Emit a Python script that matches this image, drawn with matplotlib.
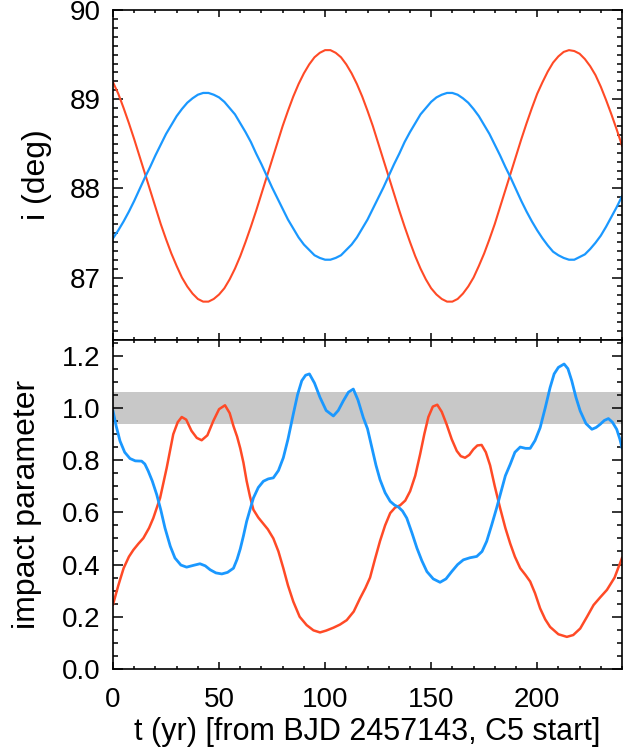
import numpy as np
import matplotlib
matplotlib.use("Agg")
from matplotlib import pyplot as plt
from matplotlib.ticker import MultipleLocator, FormatStrFormatter

##### Data
# top panel: inclination (deg), sampled every 2.5 yr
t_inc = [i * 2.5 for i in range(97)]
inc_red = [89.19, 89.06, 88.90, 88.73, 88.55, 88.36, 88.17, 87.98, 87.79, 87.60,
           87.43, 87.27, 87.13, 87.00, 86.90, 86.82, 86.76, 86.73, 86.73, 86.76,
           86.81, 86.88, 86.98, 87.10, 87.24, 87.40, 87.57, 87.75, 87.94, 88.13,
           88.32, 88.51, 88.70, 88.87, 89.03, 89.17, 89.29, 89.39, 89.47, 89.52,
           89.55, 89.55, 89.52, 89.47, 89.39, 89.29, 89.17, 89.03, 88.87, 88.70,
           88.51, 88.32, 88.13, 87.94, 87.75, 87.57, 87.40, 87.24, 87.10, 86.98,
           86.88, 86.81, 86.76, 86.73, 86.73, 86.76, 86.82, 86.90, 87.00, 87.13,
           87.27, 87.43, 87.60, 87.79, 87.98, 88.17, 88.36, 88.55, 88.73, 88.90,
           89.06, 89.19, 89.31, 89.41, 89.48, 89.53, 89.55, 89.54, 89.51, 89.45,
           89.37, 89.27, 89.14, 88.99, 88.83, 88.66, 88.48]
inc_blue = [87.44, 87.53, 87.63, 87.74, 87.86, 87.99, 88.12, 88.24, 88.37, 88.49,
            88.61, 88.71, 88.81, 88.89, 88.96, 89.01, 89.05, 89.07, 89.07, 89.05,
            89.02, 88.97, 88.90, 88.83, 88.73, 88.63, 88.52, 88.39, 88.27, 88.14,
            88.01, 87.89, 87.77, 87.65, 87.55, 87.45, 87.37, 87.31, 87.25, 87.22,
            87.20, 87.20, 87.22, 87.25, 87.31, 87.37, 87.45, 87.55, 87.65, 87.77,
            87.89, 88.01, 88.14, 88.27, 88.39, 88.52, 88.63, 88.73, 88.83, 88.90,
            88.97, 89.02, 89.05, 89.07, 89.07, 89.05, 89.01, 88.96, 88.89, 88.81,
            88.71, 88.61, 88.49, 88.37, 88.24, 88.12, 87.99, 87.86, 87.74, 87.63,
            87.53, 87.44, 87.36, 87.29, 87.25, 87.22, 87.20, 87.20, 87.23, 87.26,
            87.32, 87.39, 87.47, 87.57, 87.68, 87.79, 87.91]

# bottom panel: impact parameter
t_b_red = [0, 2.5, 5, 7.5, 9.6, 12, 14.3, 17, 19, 22.2, 25.3, 28.4, 30.5, 32.4, 34.5,
           37, 39.5, 41.8, 44.5, 47.3, 50, 52.8, 55, 56.8, 58.5, 60, 61.5, 63, 64.6,
           66.2, 68.5, 70.9, 73, 75.6, 78, 80.3, 82.5, 85, 88, 91.3, 94.5, 97.6, 100.5,
           103.9, 107, 110.2, 113.5, 116.5, 119, 121.2, 123.5, 125.9, 128.3, 130.7, 133,
           135.4, 137.8, 140.1, 142.5, 144.8, 146.8, 148.7, 150.8, 152.9, 155, 157.3,
           159.7, 162.1, 164, 166, 168, 169.9, 171.8, 173.8, 175.8, 177.8, 180, 182.5,
           185, 187.3, 189.5, 192, 194.5, 196.7, 199, 201.4, 203.8, 206.1, 210, 214,
           217, 220.3, 223.5, 226.6, 229.8, 232.9, 236.5, 240]
b_red = [0.247, 0.32, 0.386, 0.43, 0.456, 0.48, 0.501, 0.54, 0.578, 0.655, 0.770, 0.899,
         0.945, 0.965, 0.955, 0.912, 0.885, 0.876, 0.895, 0.950, 0.995, 1.010, 0.98,
         0.93, 0.89, 0.845, 0.79, 0.72, 0.66, 0.61, 0.58, 0.556, 0.535, 0.50, 0.45,
         0.386, 0.32, 0.258, 0.20, 0.168, 0.148, 0.140, 0.147, 0.158, 0.17, 0.187, 0.22,
         0.271, 0.31, 0.35, 0.42, 0.49, 0.55, 0.597, 0.618, 0.627, 0.645, 0.681, 0.74,
         0.822, 0.90, 0.965, 1.005, 1.012, 0.985, 0.937, 0.88, 0.835, 0.815, 0.809,
         0.82, 0.841, 0.856, 0.858, 0.83, 0.78, 0.70, 0.617, 0.54, 0.48, 0.43, 0.386,
         0.36, 0.335, 0.29, 0.232, 0.19, 0.161, 0.133, 0.123, 0.13, 0.155, 0.20, 0.245,
         0.275, 0.303, 0.35, 0.425]

t_b_blue = [0, 1.5, 3.3, 5.5, 8, 10.5, 13.5, 15, 16.6, 18.5, 20.6, 22.5, 24.5, 27, 29.2,
            32, 34.7, 38, 41, 43.5, 45.8, 48.5, 51.3, 54, 56.8, 58.5, 60, 61.5, 63, 64.6,
            66.2, 68.5, 70.9, 73.2, 75.6, 78, 80.3, 82.5, 85, 87, 89, 90.8, 92.6, 95,
            97.6, 100.5, 103.9, 106.2, 108.6, 111, 113.3, 115.5, 118, 120, 122, 124,
            125.9, 128.3, 130.7, 132.7, 134.6, 136.5, 138.5, 141, 143.3, 145.6, 148, 151,
            154.2, 157, 159.7, 162.5, 165.2, 168.3, 171.5, 174, 176.2, 178.5, 180.9, 183,
            185, 187.3, 189.5, 192, 194.5, 196.7, 199, 201.4, 203.8, 206.1, 208, 210,
            212.7, 214.5, 216.3, 218.3, 220.3, 223, 225.8, 227.8, 229.7, 231.7, 233.6,
            235.5, 237.5, 239, 240]
b_blue = [0.988, 0.93, 0.873, 0.83, 0.806, 0.797, 0.796, 0.785, 0.758, 0.72, 0.668,
          0.61, 0.540, 0.47, 0.425, 0.398, 0.390, 0.397, 0.403, 0.395, 0.380, 0.368,
          0.364, 0.37, 0.386, 0.42, 0.46, 0.51, 0.565, 0.61, 0.655, 0.695, 0.719, 0.728,
          0.732, 0.76, 0.809, 0.88, 0.976, 1.05, 1.104, 1.125, 1.130, 1.095, 1.040, 0.99,
          0.969, 0.99, 1.027, 1.060, 1.072, 1.03, 0.963, 0.92, 0.85, 0.78, 0.725, 0.675,
          0.642, 0.628, 0.620, 0.605, 0.578, 0.52, 0.463, 0.415, 0.373, 0.345, 0.332,
          0.345, 0.373, 0.40, 0.418, 0.426, 0.431, 0.45, 0.489, 0.55, 0.617, 0.68, 0.74,
          0.784, 0.83, 0.850, 0.845, 0.845, 0.875, 0.924, 1.0, 1.078, 1.13, 1.155, 1.168,
          1.15, 1.104, 1.04, 0.988, 0.94, 0.918, 0.925, 0.937, 0.952, 0.959, 0.945,
          0.918, 0.88, 0.847]

band = (0.94, 1.06)

RED = "#ff4a26"
BLUE = "#1a98ff"

plt.rcParams["font.family"] = ["Liberation Sans", "DejaVu Sans"]

fig = plt.figure(figsize=(6.3, 7.52), dpi=100)
ax1 = fig.add_axes([0.1794, 0.5479, 0.8079, 0.4388])
ax2 = fig.add_axes([0.1794, 0.1104, 0.8079, 0.4375])


def style(ax):
    for s in ax.spines.values():
        s.set_linewidth(1.2)
    ax.tick_params(which="both", direction="in", top=True, right=True,
                   labelsize=20, width=1.1)
    ax.tick_params(axis="y", which="major", length=7, pad=9)
    ax.tick_params(axis="y", which="minor", length=3.5)
    ax.tick_params(axis="x", which="major", length=5, pad=13)
    ax.tick_params(axis="x", which="minor", length=2.5)
    ax.xaxis.set_major_locator(MultipleLocator(50))
    ax.xaxis.set_minor_locator(MultipleLocator(10))
    ax.set_xlim(0, 240)


# top panel
ax1.plot(t_inc, inc_red, color=RED, lw=1.5)
ax1.plot(t_inc, inc_blue, color=BLUE, lw=1.6)
style(ax1)
ax1.set_ylim(86.3, 90.0)
ax1.yaxis.set_major_locator(MultipleLocator(1))
ax1.yaxis.set_minor_locator(MultipleLocator(0.1))
ax1.tick_params(axis="x", labelbottom=False)
ax1.set_ylabel("i (deg)", fontsize=23)
ax1.yaxis.set_label_coords(-0.12, 0.5)

# bottom panel
ax2.axhspan(band[0], band[1], color="#c8c8c8", lw=0, zorder=0)
ax2.plot(t_b_red, b_red, color=RED, lw=1.8)
ax2.plot(t_b_blue, b_blue, color=BLUE, lw=2.0)
style(ax2)
ax2.set_ylim(0, 1.26)
ax2.yaxis.set_major_locator(MultipleLocator(0.2))
ax2.yaxis.set_minor_locator(MultipleLocator(0.05))
ax2.yaxis.set_major_formatter(FormatStrFormatter("%.1f"))
ax2.set_ylabel("impact parameter", fontsize=23)
ax2.yaxis.set_label_coords(-0.14, 0.5)
ax2.set_xlabel("t (yr) [from BJD 2457143, C5 start]", fontsize=22, labelpad=3)

fig.savefig("out.png", dpi=100)
